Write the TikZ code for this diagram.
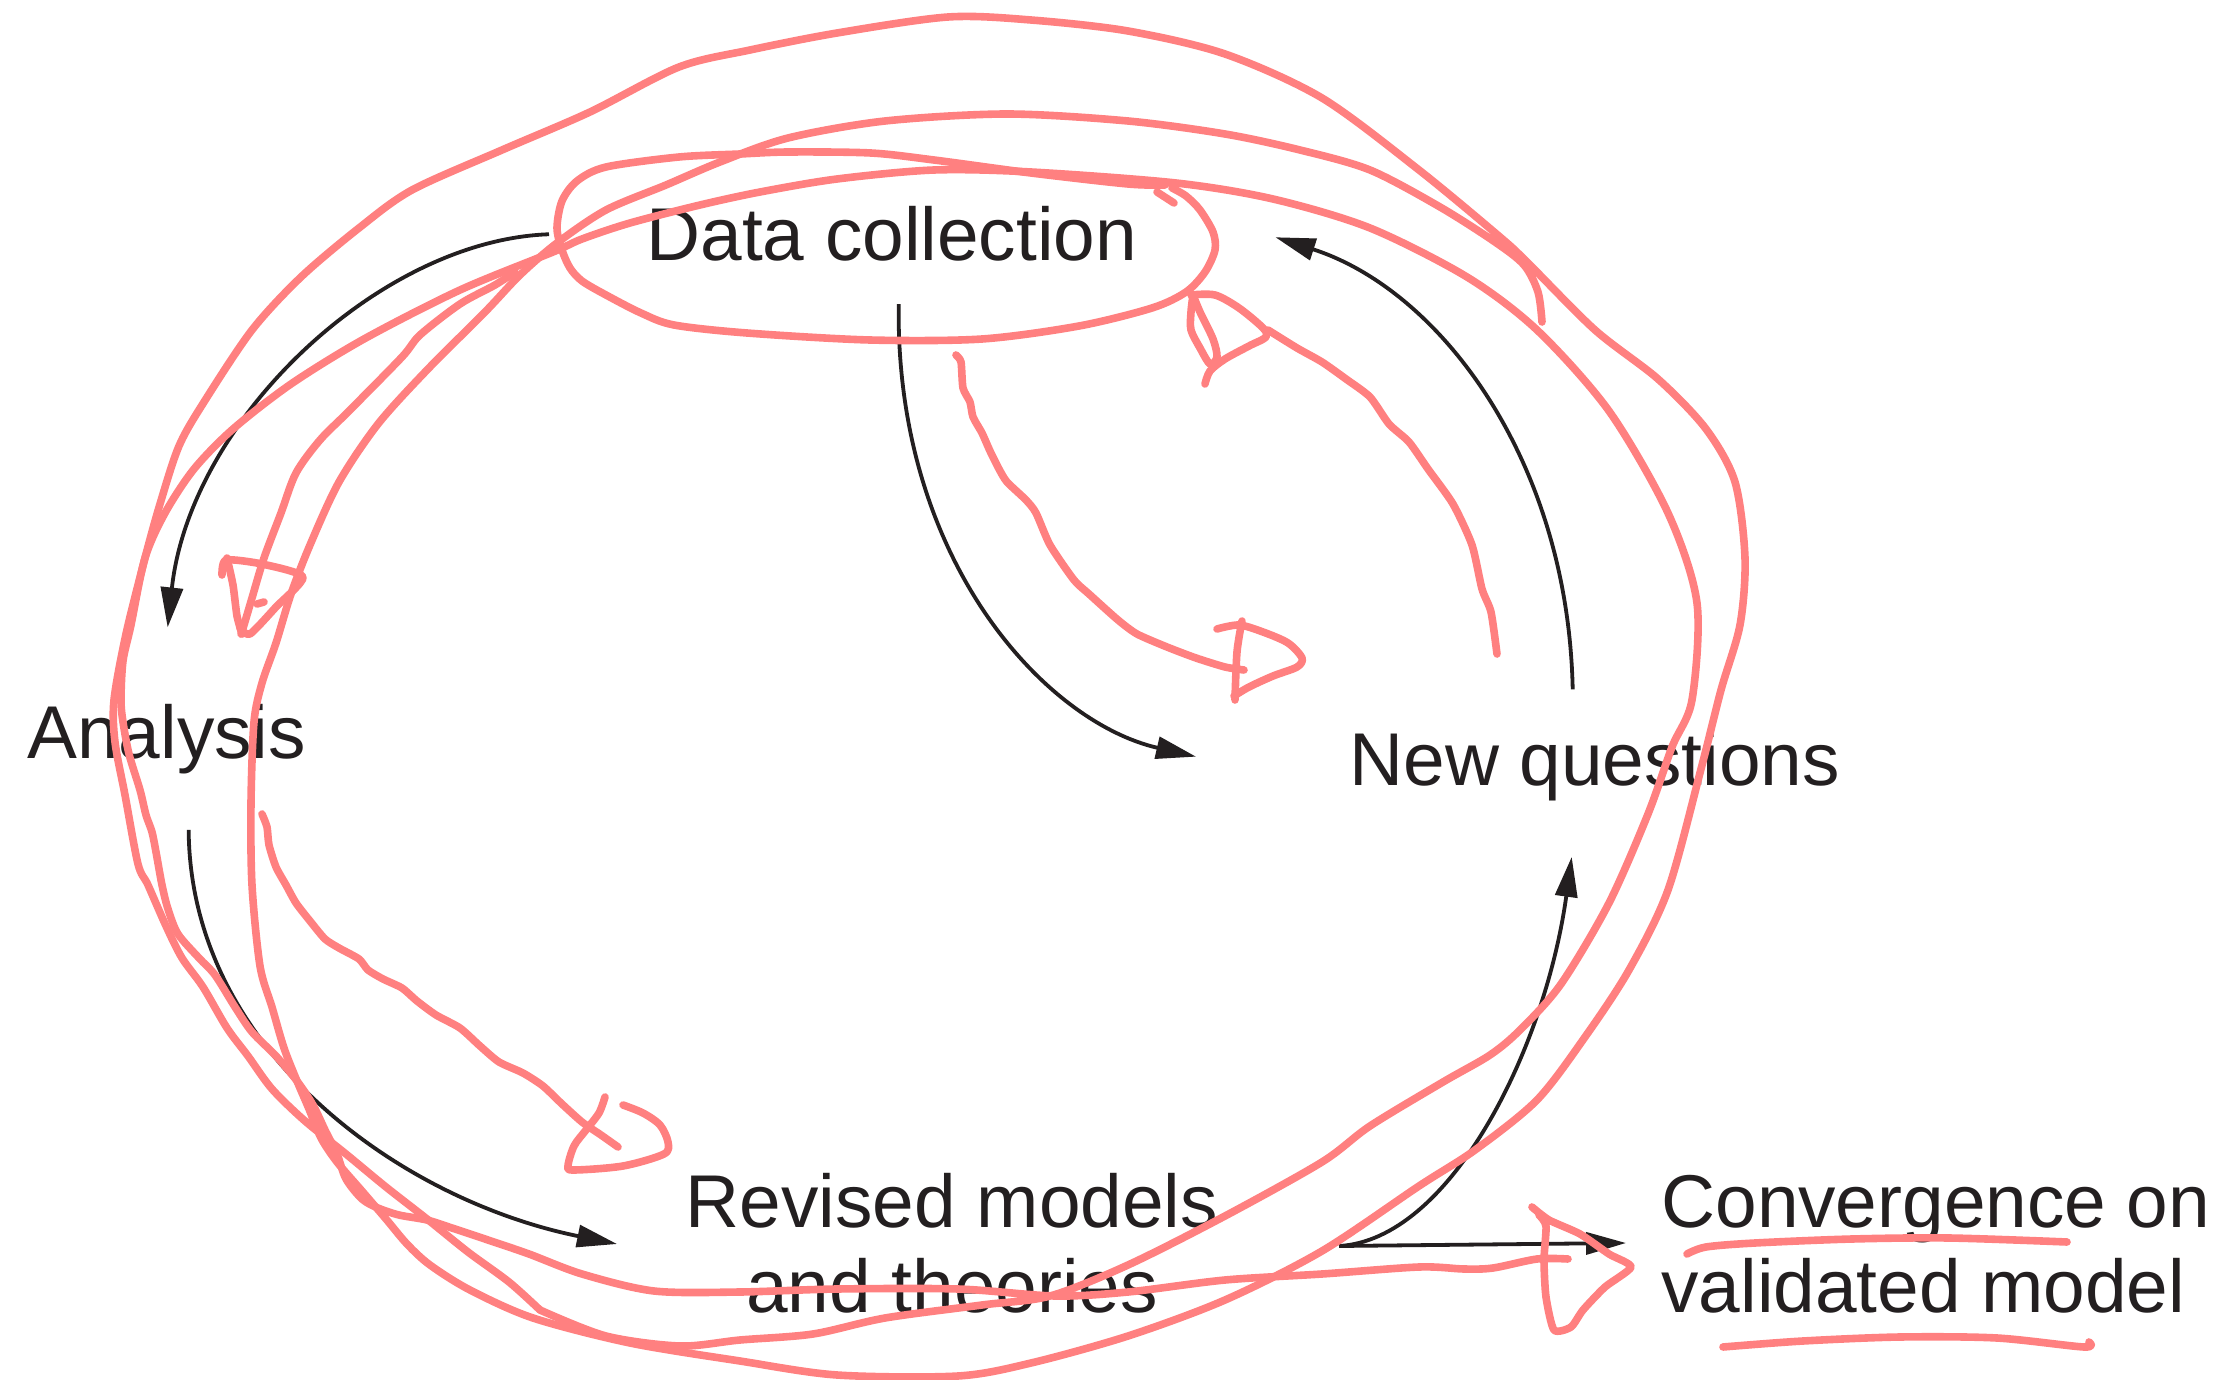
\documentclass[tikz,border=0pt]{standalone}
\usepackage{fontspec}
\setmainfont{Liberation Sans}
\usetikzlibrary{arrows.meta,calc}
\definecolor{ink}{RGB}{35,31,32}
\definecolor{marker}{RGB}{255,128,128}
\begin{document}
\begin{tikzpicture}[x=0.5pt,y=-0.5pt,
  lbl/.style={inner sep=0pt, text=ink, font=\fontsize{37.4pt}{42.5pt}\selectfont},
  flow/.style={draw=ink, line width=1.9pt, -{Triangle[length=20pt,width=11pt]}},
  pen/.style={draw=marker, line width=3.8pt, line cap=round, line join=round}]
\fill[white] (0,0) rectangle (2224,1380);
\useasboundingbox (0,0) rectangle (2224,1380);

% ---- text nodes ----
\node[lbl, anchor=base west] (dc) at (646,261) {Data collection};
\node[lbl, anchor=base west] (an) at (27,758) {Analysis};
\node[lbl, anchor=base west] (nq) at (1349,785) {New questions};
\node[lbl, anchor=base, align=center] (rm) at (952,1312) {Revised models\\and theories};
\node[lbl, anchor=base west, align=left] (cv) at (1661,1312) {Convergence on\\validated model};

% ---- black connectors ----
\draw[flow] ($(dc.west)+(-97,0)$) .. controls (380,240) and (190,420) .. ($(an.north)+(1,-76)$);
\draw[flow] ($(dc.south)+(7,42)$) .. controls (895,560) and (1045,722) .. ($(nq.west)+(-153,-9)$);
\draw[flow] ($(nq.north)+(-22,-41)$) .. controls (1568,460) and (1440,290) .. ($(dc.east)+(138,3)$);
\draw[flow] ($(an.south)+(22,56)$) .. controls (190,1050) and (400,1200) .. ($(rm.base)+(-335,-68)$);
\draw[flow] ($(rm.base)+(387,-66)$) .. controls (1450,1240) and (1545,1050) .. ($(nq.south)+(-23,56)$);
\draw[flow] ($(rm.base)+(387,-66)$) -- ($(cv.base west)+(-35,-69)$);

% ---- red marker strokes ----
% ellipse round Data collection
\draw[pen] plot[smooth, tension=0.5] coordinates {(1165,185) (1128,184) (1031,173) (934,160) (871,153) (788,152) (740,154) (679,157) (606,167) (577,181) (562,201) (557,228) (562,250) (570,268) (582,281) (606,295) (641,313) (674,325) (747,333) (870,340) (982,339) (1079,326) (1152,308) (1186,292) (1205,272) (1215,250) (1213,232) (1200,210) (1186,196) (1172,188)};
\draw[pen] (1157,192) -- (1174,203);

% long spiral, first part
\draw[pen] plot[smooth, tension=0.5] coordinates {(1542,322) (1538,292) (1524,265) (1495,242) (1440,207) (1370,170) (1300,150) (1225,134) (1128,121) (1007,114) (885,121) (788,138) (720,162) (666,185) (606,210) (557,243) (520,275) (485,312) (427,370) (378,424) (339,482) (310,545) (291,594) (276,643) (262,683) (254,722) (251,803) (252,885) (260,966) (272,1007) (284,1048) (297,1081) (309,1109) (321,1138) (337,1162) (362,1191) (386,1219) (407,1244) (430,1265) (470,1290) (533,1318) (630,1343) (740,1361) (837,1375) (958,1376) (1031,1363) (1128,1336) (1225,1300) (1322,1251) (1419,1186) (1475,1150) (1537,1100) (1585,1037) (1629,970) (1668,890) (1701,769) (1721,690) (1740,625) (1745,558) (1735,482) (1706,429) (1658,379) (1595,330) (1527,262) (1500,237) (1419,170) (1322,98) (1225,54) (1128,31) (1031,20) (948,17) (837,33) (750,50) (679,67) (590,112) (502,150) (412,190) (359,228) (301,277) (252,330) (204,402) (179,446) (160,504) (145,558) (126,634) (114,700) (115,742) (125,795) (138,864) (148,885) (166,926) (182,958) (203,987) (227,1028) (248,1056) (272,1089) (305,1121) (346,1154) (386,1187) (427,1219) (468,1252) (509,1282) (540,1310)};

% long spiral, second part, ending at the convergence arrow
\draw[pen] plot[smooth, tension=0.5] coordinates {(540,1310) (606,1336) (680,1346) (740,1340) (813,1334) (885,1318) (982,1305) (1050,1296) (1128,1265) (1225,1216) (1322,1162) (1370,1126) (1443,1082) (1490,1055) (1520,1030) (1561,984) (1609,903) (1648,814) (1672,747) (1692,700) (1697,603) (1668,513) (1609,411) (1537,330) (1467,277) (1370,228) (1273,199) (1176,183) (1031,172) (934,170) (837,179) (760,192) (700,205) (630,223) (582,239) (553,252) (460,290) (364,339) (291,384) (233,429) (194,469) (165,513) (145,558) (131,625) (123,661) (121,700) (123,722) (129,754) (140,790) (146,815) (152,832) (156,852) (162,885) (168,909) (178,934) (199,958) (215,975) (235,1007) (252,1032) (276,1056) (297,1081) (313,1105) (325,1130) (337,1154) (346,1179) (362,1199) (378,1208) (399,1215) (427,1220) (452,1228) (488,1240) (529,1254) (582,1274) (654,1291) (740,1292) (837,1289) (958,1289) (1055,1296) (1128,1292) (1225,1280) (1322,1274) (1419,1267) (1464,1269) (1493,1268) (1537,1259) (1568,1259)};

% red arrow: Data collection -> Analysis
\draw[pen] plot[smooth, tension=0.5] coordinates {(515,272) (495,285) (460,304) (420,335) (402,357) (349,411) (320,440) (296,473) (281,513) (264,558) (252,598) (244,625) (241,634)};
\draw[pen] plot[smooth, tension=0.4] coordinates {(222,575) (226,560) (262,564) (303,577) (276,607) (250,634) (240,628)};
\draw[pen] plot[smooth, tension=0.4] coordinates {(227,558) (233,585) (237,616) (242,634)};
\draw[pen] (257,604) -- (264,602);

% red arrow: Data collection -> New questions
\draw[pen] plot[smooth, tension=0.4] coordinates {(956,355) (961,362) (963,388) (970,402) (973,417) (982,433) (990,451) (999,469) (1007,482) (1026,500) (1036,513) (1050,545) (1074,580) (1089,594) (1118,620) (1137,634) (1167,647) (1196,658) (1225,667) (1244,670)};
\draw[pen] plot[smooth, tension=0.5] coordinates {(1217,629) (1239,625) (1263,632) (1288,643) (1302,658) (1297,667) (1273,676) (1249,687) (1234,696)};
\draw[pen] plot[smooth, tension=0.5] coordinates {(1242,621) (1237,652) (1235,700)};

% red arrow: New questions -> Data collection
\draw[pen] plot[smooth, tension=0.4] coordinates {(1497,654) (1491,612) (1482,589) (1472,545) (1453,504) (1428,469) (1409,442) (1389,424) (1370,397) (1346,379) (1322,362) (1297,348) (1268,330)};
\draw[pen] plot[smooth, tension=0.5] coordinates {(1191,295) (1215,295) (1239,308) (1263,328) (1266,337) (1249,346) (1225,359) (1210,371) (1205,384)};
\draw[pen] plot[smooth, tension=0.5] coordinates {(1193,295) (1191,312) (1191,330) (1200,348) (1210,364) (1217,357) (1213,339) (1200,312) (1193,295)};

% red arrow: Analysis -> Revised models
\draw[pen] plot[smooth, tension=0.4] coordinates {(262,814) (267,827) (269,845) (276,867) (286,885) (296,903) (310,921) (325,939) (339,948) (359,959) (368,970) (383,979) (402,988) (417,1001) (436,1015) (460,1028) (480,1046) (499,1062) (523,1073) (543,1086) (562,1104) (582,1122) (601,1135) (618,1147)};
\draw[pen] plot[smooth, tension=0.5] coordinates {(605,1097) (599,1113) (586,1130) (574,1146) (568,1166) (574,1170) (623,1166) (664,1154) (668,1142) (660,1125) (643,1113) (623,1105)};

% red arrowhead at Convergence
\draw[pen] plot[smooth, tension=0.4] coordinates {(1532,1207) (1549,1220) (1580,1234) (1609,1254) (1631,1267) (1605,1287) (1583,1310) (1571,1327) (1554,1330) (1546,1297) (1544,1260) (1546,1226) (1539,1215)};

% underlines
\draw[pen] plot[smooth, tension=0.5] coordinates {(1687,1254) (1706,1247) (1755,1243) (1852,1239) (1949,1238) (2067,1242)};
\draw[pen] plot[smooth, tension=0.5] coordinates {(1723,1347) (1803,1341) (1900,1337) (1997,1338) (2084,1347) (2089,1342)};
\end{tikzpicture}
\end{document}
